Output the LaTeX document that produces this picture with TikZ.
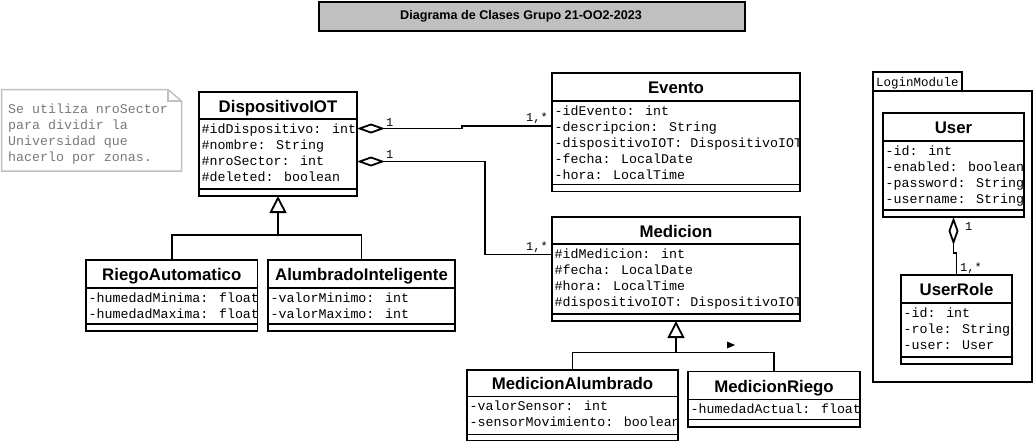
\documentclass[tikz,border=0pt]{standalone}
\usepackage{fontspec}
\setmainfont{Liberation Sans}
\newfontfamily\monof{Liberation Mono}
\usetikzlibrary{arrows.meta}
\definecolor{titlegray}{RGB}{192,192,192}
\definecolor{notegray}{RGB}{120,120,120}
\definecolor{noteborder}{RGB}{192,192,192}
\tikzset{
 clsbox/.style={draw, line width=1.8pt, fill=white, inner sep=0pt, outer sep=0pt, anchor=north west},
 clstitle/.style={font=\bfseries\fontsize{16.8}{18}\selectfont, inner sep=0pt, anchor=base},
 attr/.style={font=\monof\fontsize{13.3}{16}\selectfont, inner sep=0pt, anchor=base west},
 sepline/.style={line width=1.8pt},
 conn/.style={line width=1.8pt},
 agg/.style={conn, {Diamond[open, length=28pt, width=10pt]}-},
 gen/.style={conn, -{Triangle[open, length=17pt, width=17pt]}},
 mult/.style={font=\monof\fontsize{12}{14}\selectfont, inner sep=0pt},
 pkgbox/.style={draw, line width=1.6pt, inner sep=0pt, outer sep=0pt, anchor=north west},
 notebox/.style={draw=noteborder, line width=1.5pt},
 notetext/.style={font=\monof\fontsize{13.3}{16}\selectfont, text=notegray, inner sep=0pt, align=left, anchor=north west},
}
\newcommand{\umlcls}[9]{%
 \node[clsbox, minimum width={#4-#2}, minimum height={#5-#3}] (#1) at (#2,#3) {};
 \draw[sepline] (#2,#6) -- (#4,#6);
 \draw[sepline] (#2,#7) -- (#4,#7);
 \node[clstitle] (#1-name) at ({(#2+#4)/2},{(#3+#6)/2+6.5}) {#8};
 \begin{scope}
 \clip (#2,#6) rectangle (#4-1,#7);
 \foreach \attrtxt [count=\i] in {#9} { \node[attr] (#1-a\i) at (#2+2.5,#6+16*\i-2) {\attrtxt}; }
 \end{scope}
}
\begin{document}
\begin{tikzpicture}[x=1pt,y=-1pt]
\useasboundingbox (0,0) rectangle (1034,442);

% title
\node[draw, line width=1.8pt, fill=titlegray, minimum width=426, minimum height=29, anchor=north west, inner sep=0pt] (titlebox) at (318,1) {};
\node[font=\bfseries\fontsize{12.6}{14}\selectfont, anchor=base, inner sep=0pt] (title) at (521,19) {Diagrama de Clases Grupo 21-OO2-2023};

% note
\draw[notebox] (1.5,89.5) -- (168,89.5) -- (181.5,101) -- (181.5,171) -- (1.5,171) -- cycle;
\draw[notebox] (168,89.5) -- (168,101) -- (181.5,101);
\node[notetext] (notetxt) at (8,104) {Se utiliza nroSector\\para dividir la\\Universidad que\\hacerlo por zonas.};

% package
\node[pkgbox, minimum width=89, minimum height=19] (pkgtab) at (873,72) {};
\node[mult, font=\monof\fontsize{12.5}{14}\selectfont, anchor=base west] (pkgname) at (876,86.5) {LoginModule};
\node[pkgbox, minimum width=159, minimum height=291] (pkg) at (873,91) {};

% classes
\umlcls{dev}{199}{92}{357}{196}{119}{189}{DispositivoIOT}{\#idDispositivo: int,\#nombre: String,\#nroSector: int,\#deleted: boolean}
\umlcls{evt}{552}{73}{800}{191.5}{101}{184.5}{Evento}{-idEvento: int,-descripcion: String,-dispositivoIOT: DispositivoIOT,-fecha: LocalDate,-hora: LocalTime}
\umlcls{med}{552}{217}{800}{321}{244}{314}{Medicion}{\#idMedicion: int,\#fecha: LocalDate,\#hora: LocalTime,\#dispositivoIOT: DispositivoIOT}
\umlcls{riego}{86}{260}{257.5}{331}{288}{324}{RiegoAutomatico}{-humedadMinima: float,-humedadMaxima: float}
\umlcls{alum}{268}{260}{455}{331}{288}{324}{AlumbradoInteligente}{-valorMinimo: int,-valorMaximo: int}
\umlcls{medal}{467}{370}{678}{440.5}{396.5}{434.5}{MedicionAlumbrado}{-valorSensor: int,-sensorMovimiento: boolean}
\umlcls{medri}{688}{371.5}{860}{427}{399.5}{419.5}{MedicionRiego}{-humedadActual: float}
\umlcls{user}{883}{113}{1024}{217}{141}{210}{User}{-id: int,-enabled: boolean,-password: String,-username: String}
\umlcls{role}{901}{275}{1012}{364}{303}{357}{UserRole}{-id: int,-role: String,-user: User}

% generalizations
\coordinate (g1) at (278,235);
\draw[conn] (riego.north) |- (g1) -| (alum.north);
\draw[gen] (g1) -- (dev.south);
\coordinate (g2) at (676,352.5);
\draw[conn] (medal.north) |- (g2) -| (medri.north);
\draw[gen] (g2) -- (med.south);
\fill (727,341.5) -- (727,348.5) -- (735,345) -- cycle;

% aggregations
\draw[agg] (dev.east |- 0,128.5) -- (462,128.5) -- (462,126) -- (evt.west |- 0,126);
\draw[agg] (dev.east |- 0,161.5) -- (485,161.5) -- (485,254.5) -- (med.west |- 0,254.5);
\draw[agg] (user.south) -- ++(0,36) -| (role.north);

% multiplicities
\node[mult, anchor=base west] (m1) at (386,126) {1};
\node[mult, anchor=base east] (m2) at (548,121.5) {1,*};
\node[mult, anchor=base west] (m3) at (386,158.5) {1};
\node[mult, anchor=base east] (m4) at (548,250.5) {1,*};
\node[mult, anchor=base west] (m5) at (965,230.5) {1};
\node[mult, anchor=base west] (m6) at (960,271) {1,*};
\end{tikzpicture}
\end{document}
